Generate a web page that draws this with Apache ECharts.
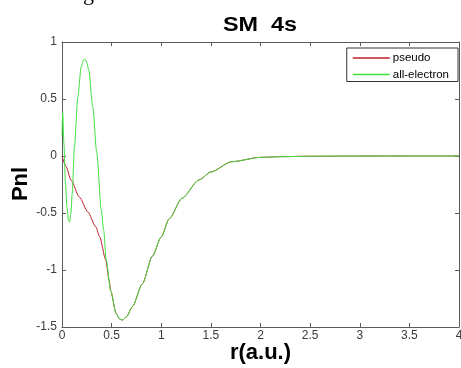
<!DOCTYPE html>
<html>
<head>
<meta charset="utf-8">
<script src="https://cdn.jsdelivr.net/npm/echarts@6/dist/echarts.min.js"></script>
<style>
  html, body { margin: 0; padding: 0; background: #ffffff; }
  #chart { width: 461px; height: 368px; }
</style>
</head>
<body>
<div id="chart"></div>
<script>
// Radial grid (a.u.) and Pnl values for the all-electron 4s orbital
const rAllElectron = [0.000, 0.007, 0.020, 0.035, 0.050, 0.065, 0.077, 0.090, 0.103, 0.125, 0.160, 0.193, 0.215, 0.233, 0.250, 0.270, 0.310, 0.350, 0.395, 0.420, 0.445, 0.490, 0.545, 0.580, 0.610, 0.650, 0.710, 0.810, 0.910, 1.000, 1.080, 1.210, 1.380, 1.500, 1.710, 2.000, 2.200, 2.500, 3.000, 3.500, 4.000];
const pAllElectron = [0.18, 0.38, 0.10, -0.25, -0.45, -0.56, -0.58, -0.50, -0.33, 0.08, 0.52, 0.78, 0.84, 0.85, 0.82, 0.75, 0.43, 0.03, -0.47, -0.65, -0.91, -1.18, -1.38, -1.43, -1.44, -1.41, -1.32, -1.12, -0.88, -0.71, -0.55, -0.37, -0.21, -0.14, -0.05, -0.012, -0.006, -0.002, -0.0005, 0.0, 0.0];

// Pseudo-orbital: nodeless inside the core radius, equal to all-electron outside
const rPseudo = [0.000, 0.040, 0.090, 0.175, 0.260, 0.340, 0.380, 0.440, 0.475, 0.490, 0.545, 0.580, 0.610, 0.650, 0.710, 0.810, 0.910, 1.000, 1.080, 1.210, 1.380, 1.500, 1.710, 2.000, 2.200, 2.500, 3.000, 3.500, 4.000];
const pPseudo = [0.00, -0.09, -0.21, -0.36, -0.49, -0.62, -0.71, -0.91, -1.09, -1.18, -1.38, -1.43, -1.44, -1.41, -1.32, -1.12, -0.88, -0.71, -0.55, -0.37, -0.21, -0.14, -0.05, -0.012, -0.006, -0.002, -0.0005, 0.0, 0.0];

const seriesNames = ['pseudo', 'all-electron'];
const xTicks = { min: 0, max: 4, step: 0.5 };
const yTicks = { min: -1.5, max: 1, step: 0.5 };

const pairs = (xs, ys) => xs.map((x, i) => [x, ys[i]]);

const sans = 'Liberation Sans, Arial, sans-serif';
const frameColor = '#5a5a5a';
const labelStyle = { color: '#3a3a3a', fontFamily: sans, fontSize: 12 };

function frameAxis(extra) {
  return Object.assign({
    type: 'value',
    axisLine: { show: true, onZero: false, lineStyle: { color: frameColor, width: 1 } },
    axisTick: { show: true, inside: true, length: 4, lineStyle: { color: frameColor } },
    splitLine: { show: false }
  }, extra);
}

const chart = echarts.init(document.getElementById('chart'), null, { renderer: 'canvas' });

chart.setOption({
  backgroundColor: '#ffffff',
  animation: false,
  graphic: [
    {
      type: 'text', x: 260, y: 25.5, scaleX: 1.2,
      style: { text: 'SM  4s', x: 0, y: 0, align: 'center', verticalAlign: 'middle',
               font: 'bold 19.5px "Liberation Sans", Arial, sans-serif', fill: '#000' }
    },
    {
      // y-axis title, rotated to read bottom-to-top
      type: 'text', x: 21, y: 184, rotation: Math.PI / 2,
      style: { text: 'Pnl', x: 0, y: 0, align: 'center', verticalAlign: 'middle',
               font: 'bold 22px "Liberation Sans", Arial, sans-serif', fill: '#000' }
    },
    {
      type: 'text', left: 83, top: -17,
      style: { text: 'g', font: '22px "Liberation Serif", serif', fill: '#000' }
    }
  ],
  legend: {
    orient: 'vertical',
    right: 3,
    top: 48,
    padding: [4, 9, 1, 6],
    itemGap: 4.5,
    itemWidth: 37,
    itemHeight: 1.5,
    icon: 'rect',
    borderColor: '#333',
    borderWidth: 1,
    backgroundColor: '#fff',
    textStyle: { fontFamily: sans, fontSize: 11.5, color: '#000', padding: [0, 0, 0, -2] },
    data: seriesNames
  },
  grid: { left: 62, right: 2, top: 42, bottom: 41, show: false, containLabel: false, outerBoundsMode: 'none' },
  xAxis: [
    frameAxis({
      min: xTicks.min, max: xTicks.max, interval: xTicks.step, position: 'bottom',
      name: 'r(a.u.)', nameLocation: 'middle', nameGap: 15, nameMoveOverlap: false,
      nameTextStyle: { fontFamily: sans, fontWeight: 'bold', fontSize: 22, color: '#000' },
      axisLabel: Object.assign({ margin: 3 }, labelStyle)
    }),
    frameAxis({
      min: xTicks.min, max: xTicks.max, interval: xTicks.step, position: 'top',
      axisLabel: { show: false }
    })
  ],
  yAxis: [
    frameAxis({
      min: yTicks.min, max: yTicks.max, interval: yTicks.step, position: 'left',
      axisLabel: Object.assign({ margin: 5 }, labelStyle)
    }),
    frameAxis({
      min: yTicks.min, max: yTicks.max, interval: yTicks.step, position: 'right',
      axisLabel: { show: false }
    })
  ],
  series: [
    {
      name: seriesNames[0], type: 'line', xAxisIndex: 0, yAxisIndex: 0,
      data: pairs(rPseudo, pPseudo),
      showSymbol: false, smooth: 0.25, smoothMonotone: 'x',
      lineStyle: { color: '#c0202c', width: 1 }, itemStyle: { color: '#c0202c' }
    },
    {
      name: seriesNames[1], type: 'line', xAxisIndex: 0, yAxisIndex: 0,
      data: pairs(rAllElectron, pAllElectron),
      showSymbol: false, smooth: 0.25, smoothMonotone: 'x',
      lineStyle: { color: '#3fe03f', width: 1 }, itemStyle: { color: '#3fe03f' }
    }
  ]
});
</script>
</body>
</html>
